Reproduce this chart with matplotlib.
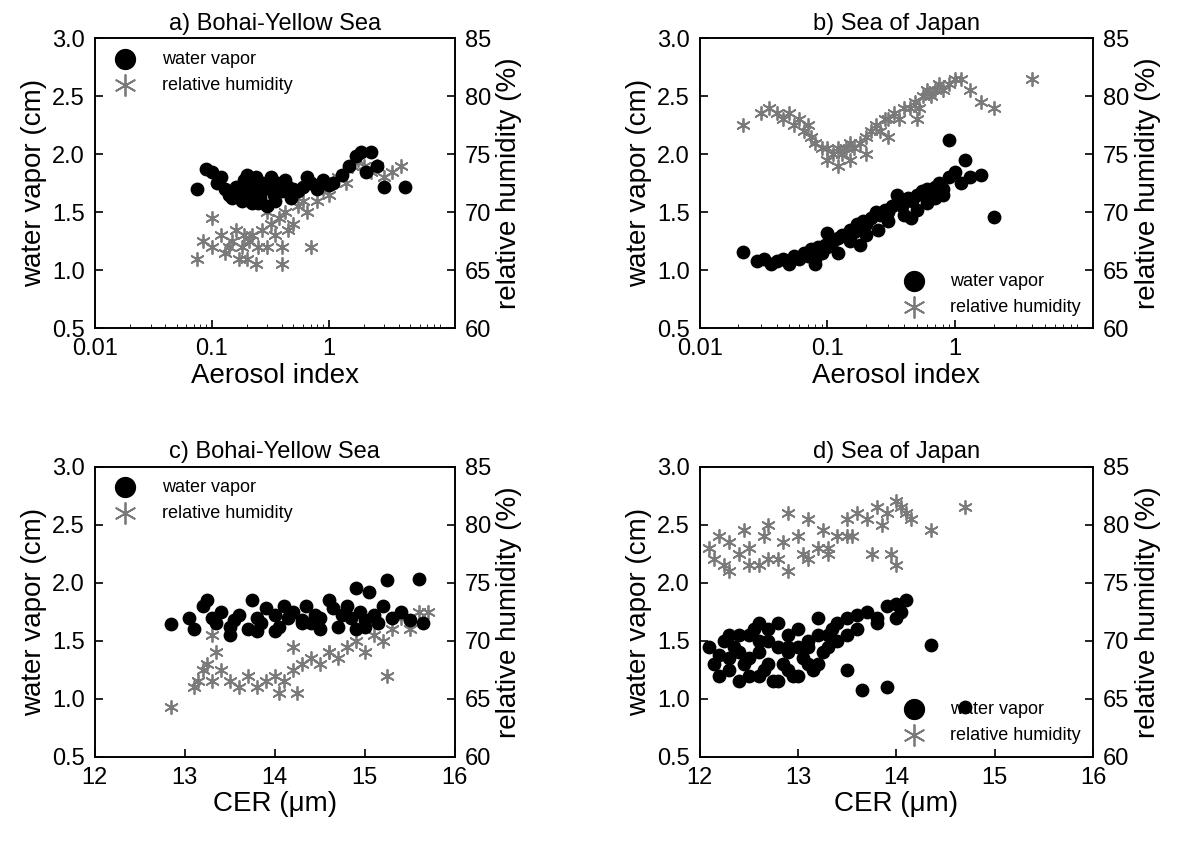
import matplotlib
matplotlib.use("Agg")
from matplotlib import pyplot as plt

plt.rcParams['font.family'] = ['Liberation Sans', 'DejaVu Sans']

# panel a) Bohai-Yellow Sea, aerosol index
a_wv_x = [0.075, 0.09, 0.1, 0.11, 0.12, 0.13, 0.14, 0.15, 0.16, 0.17, 0.18, 0.19, 0.2, 0.21, 0.22, 0.23,
          0.24, 0.25, 0.26, 0.27, 0.28, 0.3, 0.32, 0.34, 0.36, 0.38, 0.4, 0.42, 0.45, 0.48, 0.5, 0.55,
          0.6, 0.65, 0.7, 0.8, 0.9, 1.0, 1.1, 1.3, 1.5, 1.7, 1.9, 2.1, 2.3, 2.6, 3.0, 4.5, 0.3, 0.25, 0.35, 0.2]
a_wv_y = [1.7, 1.87, 1.85, 1.75, 1.8, 1.7, 1.65, 1.62, 1.72, 1.68, 1.6, 1.78, 1.65, 1.75, 1.58, 1.7,
          1.8, 1.68, 1.62, 1.75, 1.7, 1.72, 1.8, 1.65, 1.75, 1.7, 1.68, 1.78, 1.72, 1.62, 1.7, 1.68,
          1.72, 1.8, 1.75, 1.7, 1.78, 1.73, 1.75, 1.82, 1.9, 1.98, 2.02, 1.85, 2.02, 1.9, 1.72, 1.72, 1.55, 1.58, 1.6, 1.82]
a_rh_x = [0.075, 0.085, 0.1, 0.1, 0.12, 0.13, 0.14, 0.15, 0.16, 0.17, 0.18, 0.2, 0.21, 0.22, 0.24, 0.25,
          0.27, 0.3, 0.32, 0.35, 0.38, 0.4, 0.42, 0.45, 0.5, 0.55, 0.6, 0.65, 0.7, 0.8, 0.9, 1.0,
          1.1, 1.2, 1.4, 1.6, 1.8, 2.0, 2.3, 2.6, 3.0, 3.5, 4.2, 0.4, 0.3, 0.19]
a_rh_y = [66, 67.5, 69.5, 67, 68, 66.5, 67, 67.5, 68.5, 66, 67, 66, 67.5, 68, 65.5, 67,
          68.5, 67, 69, 68, 69.5, 65.5, 70, 68.5, 69, 70.5, 71, 70, 67, 71, 72, 71.5,
          72.5, 73, 72.5, 74, 74.5, 74, 73.5, 74, 73, 73.5, 74, 67, 70, 68]

# panel b) Sea of Japan, aerosol index
b_wv_x = [0.022, 0.028, 0.032, 0.036, 0.04, 0.045, 0.05, 0.055, 0.06, 0.065, 0.07, 0.075, 0.08, 0.085, 0.09,
          0.095, 0.1, 0.11, 0.12, 0.13, 0.14, 0.15, 0.16, 0.17, 0.18, 0.19, 0.2, 0.22, 0.24, 0.26, 0.28,
          0.3, 0.32, 0.35, 0.38, 0.4, 0.43, 0.46, 0.5, 0.55, 0.6, 0.65, 0.7, 0.75, 0.8, 0.9, 1.0, 1.1,
          1.3, 1.6, 2.0, 0.1, 0.12, 0.15, 0.2, 0.25, 0.3, 0.4, 0.5, 0.6, 0.7, 0.8, 0.08, 0.18, 0.35, 0.45, 0.9, 1.2]
b_wv_y = [1.16, 1.08, 1.1, 1.05, 1.08, 1.1, 1.05, 1.12, 1.1, 1.15, 1.12, 1.18, 1.1, 1.2, 1.15,
          1.22, 1.2, 1.25, 1.28, 1.3, 1.3, 1.35, 1.33, 1.4, 1.38, 1.42, 1.4, 1.45, 1.5, 1.48, 1.52,
          1.5, 1.55, 1.58, 1.55, 1.6, 1.62, 1.6, 1.65, 1.68, 1.7, 1.65, 1.72, 1.75, 1.7, 1.8, 1.85, 1.75,
          1.8, 1.82, 1.46, 1.32, 1.15, 1.25, 1.3, 1.35, 1.42, 1.48, 1.52, 1.58, 1.62, 1.65, 1.05, 1.22, 1.65, 1.45, 2.12, 1.95]
b_rh_x = [0.022, 0.03, 0.035, 0.04, 0.045, 0.05, 0.055, 0.06, 0.065, 0.07, 0.075, 0.08, 0.09, 0.1, 0.11,
          0.12, 0.13, 0.14, 0.15, 0.16, 0.18, 0.2, 0.22, 0.24, 0.26, 0.28, 0.3, 0.33, 0.36, 0.4, 0.44,
          0.48, 0.52, 0.56, 0.6, 0.65, 0.7, 0.75, 0.8, 0.9, 1.0, 1.1, 1.3, 1.6, 2.0, 4.0, 0.1, 0.12, 0.15, 0.2, 0.3, 0.5]
b_rh_y = [77.5, 78.5, 79, 78.5, 78, 78.5, 77.5, 78, 77, 77.5, 76.5, 76, 75.5, 75.5, 75,
          75.5, 75, 75.5, 76, 75.5, 76, 76.5, 77, 77.5, 77, 78, 78, 78.5, 78, 79, 79,
          79.5, 79, 80, 80.5, 80, 80.5, 81, 80.5, 81, 81.5, 81.5, 80.5, 79.5, 79, 81.5, 74.5, 74, 74.5, 75, 76.5, 78]

# panel c) Bohai-Yellow Sea, CER
c_wv_x = [12.85, 13.05, 13.1, 13.2, 13.25, 13.3, 13.35, 13.4, 13.5, 13.55, 13.6, 13.7, 13.75, 13.8, 13.85,
          13.9, 14.0, 14.05, 14.1, 14.15, 14.2, 14.3, 14.35, 14.4, 14.45, 14.5, 14.6, 14.65, 14.7, 14.75,
          14.8, 14.85, 14.9, 14.95, 15.0, 15.05, 15.1, 15.15, 15.2, 15.25, 15.3, 15.4, 15.5, 15.6, 15.65,
          13.5, 14.0, 14.5, 15.0, 13.8, 14.3, 14.9]
c_wv_y = [1.64, 1.7, 1.6, 1.8, 1.85, 1.7, 1.65, 1.75, 1.55, 1.68, 1.72, 1.6, 1.85, 1.7, 1.65,
          1.78, 1.72, 1.62, 1.8, 1.7, 1.75, 1.68, 1.8, 1.65, 1.72, 1.7, 1.85, 1.78, 1.62, 1.72,
          1.8, 1.7, 1.95, 1.75, 1.68, 1.92, 1.72, 1.65, 1.8, 2.02, 1.7, 1.75, 1.68, 2.03, 1.65,
          1.62, 1.58, 1.6, 1.62, 1.58, 1.65, 1.6]
c_rh_x = [12.85, 13.1, 13.15, 13.2, 13.25, 13.3, 13.35, 13.4, 13.5, 13.6, 13.7, 13.8, 13.9, 14.0, 14.05,
          14.1, 14.2, 14.25, 14.3, 14.4, 14.5, 14.6, 14.7, 14.8, 14.9, 15.0, 15.1, 15.2, 15.3, 15.4,
          15.5, 15.6, 15.7, 13.3, 14.2, 14.6, 15.25]
c_rh_y = [64.3, 66, 66.5, 67.5, 68, 66.5, 69, 67.5, 66.5, 66, 67, 66, 66.5, 67, 65.5,
          66.5, 67.5, 65.5, 68, 68.5, 68, 69, 68.5, 69.5, 70, 69, 70.5, 70, 71, 72,
          71, 72.5, 72.5, 70.5, 69.5, 69, 67]

# panel d) Sea of Japan, CER
d_wv_x = [12.1, 12.15, 12.2, 12.25, 12.3, 12.35, 12.4, 12.45, 12.5, 12.55, 12.6, 12.65, 12.7, 12.75, 12.8,
          12.85, 12.9, 12.95, 13.0, 13.05, 13.1, 13.15, 13.2, 13.25, 13.3, 13.35, 13.4, 13.5, 13.6, 13.7,
          13.8, 13.9, 14.0, 14.05, 14.1, 12.2, 12.3, 12.4, 12.5, 12.6, 12.7, 12.8, 12.9, 13.0, 13.1, 13.2,
          12.4, 12.6, 12.8, 13.0, 13.2, 13.4, 13.6, 13.8, 14.0, 12.5, 12.7, 12.9, 13.1, 13.3, 13.5, 13.5,
          13.65, 13.9, 14.35, 14.7, 12.3, 12.6, 12.9]
d_wv_y = [1.45, 1.3, 1.38, 1.5, 1.25, 1.45, 1.55, 1.3, 1.2, 1.6, 1.4, 1.25, 1.5, 1.15, 1.65,
          1.3, 1.45, 1.2, 1.6, 1.35, 1.5, 1.25, 1.7, 1.4, 1.55, 1.6, 1.65, 1.7, 1.72, 1.75,
          1.7, 1.8, 1.82, 1.75, 1.85, 1.2, 1.55, 1.15, 1.35, 1.5, 1.3, 1.45, 1.55, 1.2, 1.45, 1.3,
          1.4, 1.2, 1.15, 1.45, 1.55, 1.5, 1.6, 1.65, 1.7, 1.55, 1.6, 1.4, 1.3, 1.45, 1.55, 1.25,
          1.08, 1.1, 1.46, 0.93, 1.35, 1.65, 1.25]
d_rh_x = [12.1, 12.15, 12.2, 12.25, 12.3, 12.4, 12.45, 12.5, 12.6, 12.65, 12.7, 12.8, 12.85, 12.9, 13.0,
          13.05, 13.1, 13.2, 13.25, 13.3, 13.4, 13.5, 13.55, 13.6, 13.7, 13.8, 13.85, 13.9, 14.0, 14.05,
          14.1, 14.15, 12.3, 12.5, 12.7, 12.9, 13.1, 13.3, 13.5, 13.75, 13.95, 14.0, 14.35, 14.7]
d_rh_y = [78, 77, 79, 76.5, 78.5, 77.5, 79.5, 78, 76.5, 79, 80, 77, 78.5, 81, 79,
          77.5, 80.5, 78, 79.5, 77.5, 79, 80.5, 79, 81, 80.5, 81.5, 80, 81, 82, 81.5,
          81, 80.5, 76, 76.5, 77, 76, 77, 78, 79, 77.5, 77.5, 76.5, 79.5, 81.5]

panels = [
    ("a) Bohai-Yellow Sea", a_wv_x, a_wv_y, a_rh_x, a_rh_y, True, "upper left", [0.079, 0.62, 0.30, 0.336]),
    ("b) Sea of Japan", b_wv_x, b_wv_y, b_rh_x, b_rh_y, True, "lower right", [0.583, 0.62, 0.328, 0.336]),
    ("c) Bohai-Yellow Sea", c_wv_x, c_wv_y, c_rh_x, c_rh_y, False, "upper left", [0.079, 0.124, 0.30, 0.336]),
    ("d) Sea of Japan", d_wv_x, d_wv_y, d_rh_x, d_rh_y, False, "lower right", [0.583, 0.124, 0.328, 0.336]),
]

fig = plt.figure(figsize=(12, 8.64), dpi=100)
grey = "#7a7a7a"
for title, wx, wy, rx, ry, logx, loc, rect in panels:
    ax = fig.add_axes(rect)
    ax2 = ax.twinx()
    h1 = ax.scatter(wx, wy, s=80, c="black", marker="o", zorder=3)
    h2 = ax2.scatter(rx, ry, s=90, c=grey, marker=(6, 2, 0), linewidths=1.3)
    ax.set_ylim(0.5, 3.0)
    ax2.set_ylim(60, 85)
    ax.set_yticks([0.5, 1.0, 1.5, 2.0, 2.5, 3.0])
    ax.set_yticklabels(["0.5", "1.0", "1.5", "2.0", "2.5", "3.0"])
    ax2.set_yticks([60, 65, 70, 75, 80, 85])
    if logx:
        ax.set_xscale("log")
        ax.set_xlim(0.01, 12)
        ax.set_xticks([0.01, 0.1, 1])
        ax.set_xticklabels(["0.01", "0.1", "1"])
        ax.set_xlabel("Aerosol index", fontsize=20, labelpad=2)
    else:
        ax.set_xlim(12, 16)
        ax.set_xticks([12, 13, 14, 15, 16])
        ax.set_xlabel("CER (\u03bcm)", fontsize=20, labelpad=2)
    ax.set_ylabel("water vapor (cm)", fontsize=20)
    ax2.set_ylabel("relative humidity (%)", fontsize=20)
    ax.set_title(title, fontsize=17)
    for a in (ax, ax2):
        a.tick_params(labelsize=17, direction="in", length=6, width=1.2, pad=7)
        a.tick_params(which="minor", direction="in", length=3)
        for sp in a.spines.values():
            sp.set_linewidth(1.2)
    ax.set_zorder(ax2.get_zorder() + 1)
    ax.patch.set_visible(False)
    ax.legend([h1, h2], ["water vapor", "relative humidity"], loc=loc, frameon=False,
              fontsize=13, handletextpad=1.0, borderaxespad=0.3, markerscale=1.6)

fig.savefig("out.png", dpi=100)
